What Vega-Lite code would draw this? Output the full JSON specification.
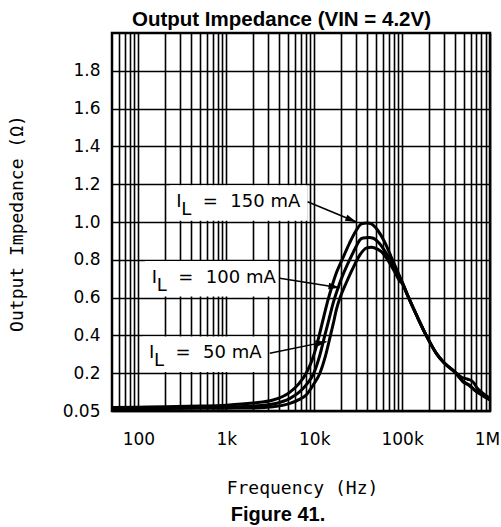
{
  "$schema": "https://vega.github.io/schema/vega-lite/v6.json",
  "width": 378,
  "height": 378,
  "autosize": {"type": "none"},
  "padding": {"left": 112, "top": 33, "right": 11, "bottom": 116},
  "background": "white",
  "title": {"text": "Figure 41.", "orient": "bottom", "anchor": "middle", "dx": -23, "offset": 8, "font": "Liberation Sans", "fontSize": 20, "fontWeight": "bold", "color": "black"},
  "config": {
    "view": {"stroke": "black", "strokeWidth": 2.5},
    "axis": {"gridColor": "black", "gridOpacity": 1, "gridWidth": 1.6, "ticks": false, "tickSize": 0, "domain": false, "labelColor": "black", "titleColor": "black"}
  },
  "datasets": {
    "curves": [
      {"series": "150 mA", "f": 50, "z": 0.018}, {"series": "150 mA", "f": 100, "z": 0.02}, {"series": "150 mA", "f": 200, "z": 0.022}, {"series": "150 mA", "f": 500, "z": 0.026}, {"series": "150 mA", "f": 1000, "z": 0.031}, {"series": "150 mA", "f": 2000, "z": 0.042}, {"series": "150 mA", "f": 3400, "z": 0.058}, {"series": "150 mA", "f": 5300, "z": 0.1}, {"series": "150 mA", "f": 6700, "z": 0.145}, {"series": "150 mA", "f": 8100, "z": 0.2}, {"series": "150 mA", "f": 9800, "z": 0.29}, {"series": "150 mA", "f": 11400, "z": 0.4}, {"series": "150 mA", "f": 12700, "z": 0.49}, {"series": "150 mA", "f": 14200, "z": 0.58}, {"series": "150 mA", "f": 15800, "z": 0.655}, {"series": "150 mA", "f": 18000, "z": 0.735}, {"series": "150 mA", "f": 21200, "z": 0.81}, {"series": "150 mA", "f": 25300, "z": 0.89}, {"series": "150 mA", "f": 30000, "z": 0.955}, {"series": "150 mA", "f": 34400, "z": 0.99}, {"series": "150 mA", "f": 40000, "z": 0.995}, {"series": "150 mA", "f": 44700, "z": 0.99}, {"series": "150 mA", "f": 53000, "z": 0.955}, {"series": "150 mA", "f": 63000, "z": 0.896}, {"series": "150 mA", "f": 75000, "z": 0.816}, {"series": "150 mA", "f": 89000, "z": 0.737}, {"series": "150 mA", "f": 100000, "z": 0.682}, {"series": "150 mA", "f": 115000, "z": 0.615}, {"series": "150 mA", "f": 150000, "z": 0.495}, {"series": "150 mA", "f": 188000, "z": 0.4}, {"series": "150 mA", "f": 245000, "z": 0.305}, {"series": "150 mA", "f": 300000, "z": 0.255}, {"series": "150 mA", "f": 395000, "z": 0.208}, {"series": "150 mA", "f": 500000, "z": 0.152}, {"series": "150 mA", "f": 580000, "z": 0.135}, {"series": "150 mA", "f": 664000, "z": 0.111}, {"series": "150 mA", "f": 800000, "z": 0.085}, {"series": "150 mA", "f": 1000000, "z": 0.058},
      {"series": "100 mA", "f": 50, "z": 0.015}, {"series": "100 mA", "f": 100, "z": 0.016}, {"series": "100 mA", "f": 200, "z": 0.017}, {"series": "100 mA", "f": 500, "z": 0.019}, {"series": "100 mA", "f": 1000, "z": 0.021}, {"series": "100 mA", "f": 2000, "z": 0.026}, {"series": "100 mA", "f": 3400, "z": 0.037}, {"series": "100 mA", "f": 5300, "z": 0.067}, {"series": "100 mA", "f": 6700, "z": 0.098}, {"series": "100 mA", "f": 8100, "z": 0.138}, {"series": "100 mA", "f": 9900, "z": 0.2}, {"series": "100 mA", "f": 11500, "z": 0.29}, {"series": "100 mA", "f": 13200, "z": 0.4}, {"series": "100 mA", "f": 14800, "z": 0.49}, {"series": "100 mA", "f": 16500, "z": 0.575}, {"series": "100 mA", "f": 18600, "z": 0.65}, {"series": "100 mA", "f": 21200, "z": 0.72}, {"series": "100 mA", "f": 25300, "z": 0.8}, {"series": "100 mA", "f": 30000, "z": 0.87}, {"series": "100 mA", "f": 33000, "z": 0.905}, {"series": "100 mA", "f": 36000, "z": 0.915}, {"series": "100 mA", "f": 42000, "z": 0.918}, {"series": "100 mA", "f": 47000, "z": 0.914}, {"series": "100 mA", "f": 55000, "z": 0.887}, {"series": "100 mA", "f": 66000, "z": 0.834}, {"series": "100 mA", "f": 82000, "z": 0.755}, {"series": "100 mA", "f": 93000, "z": 0.71}, {"series": "100 mA", "f": 100000, "z": 0.682}, {"series": "100 mA", "f": 115000, "z": 0.615}, {"series": "100 mA", "f": 150000, "z": 0.495}, {"series": "100 mA", "f": 188000, "z": 0.4}, {"series": "100 mA", "f": 245000, "z": 0.305}, {"series": "100 mA", "f": 300000, "z": 0.255}, {"series": "100 mA", "f": 395000, "z": 0.208}, {"series": "100 mA", "f": 500000, "z": 0.155}, {"series": "100 mA", "f": 580000, "z": 0.138}, {"series": "100 mA", "f": 664000, "z": 0.113}, {"series": "100 mA", "f": 800000, "z": 0.087}, {"series": "100 mA", "f": 1000000, "z": 0.06},
      {"series": "50 mA", "f": 50, "z": 0.012}, {"series": "50 mA", "f": 100, "z": 0.012}, {"series": "50 mA", "f": 200, "z": 0.013}, {"series": "50 mA", "f": 500, "z": 0.014}, {"series": "50 mA", "f": 1000, "z": 0.015}, {"series": "50 mA", "f": 2000, "z": 0.016}, {"series": "50 mA", "f": 3400, "z": 0.022}, {"series": "50 mA", "f": 5300, "z": 0.04}, {"series": "50 mA", "f": 6700, "z": 0.06}, {"series": "50 mA", "f": 8100, "z": 0.085}, {"series": "50 mA", "f": 9800, "z": 0.14}, {"series": "50 mA", "f": 11600, "z": 0.2}, {"series": "50 mA", "f": 13400, "z": 0.29}, {"series": "50 mA", "f": 15300, "z": 0.4}, {"series": "50 mA", "f": 16800, "z": 0.48}, {"series": "50 mA", "f": 17800, "z": 0.534}, {"series": "50 mA", "f": 20200, "z": 0.614}, {"series": "50 mA", "f": 23000, "z": 0.676}, {"series": "50 mA", "f": 27500, "z": 0.755}, {"series": "50 mA", "f": 33000, "z": 0.825}, {"series": "50 mA", "f": 39000, "z": 0.862}, {"series": "50 mA", "f": 45000, "z": 0.866}, {"series": "50 mA", "f": 48000, "z": 0.864}, {"series": "50 mA", "f": 58000, "z": 0.843}, {"series": "50 mA", "f": 68500, "z": 0.8}, {"series": "50 mA", "f": 86000, "z": 0.72}, {"series": "50 mA", "f": 93000, "z": 0.69}, {"series": "50 mA", "f": 100000, "z": 0.675}, {"series": "50 mA", "f": 115000, "z": 0.612}, {"series": "50 mA", "f": 150000, "z": 0.495}, {"series": "50 mA", "f": 188000, "z": 0.4}, {"series": "50 mA", "f": 245000, "z": 0.305}, {"series": "50 mA", "f": 300000, "z": 0.255}, {"series": "50 mA", "f": 395000, "z": 0.208}, {"series": "50 mA", "f": 470000, "z": 0.18}, {"series": "50 mA", "f": 560000, "z": 0.168}, {"series": "50 mA", "f": 625000, "z": 0.158}, {"series": "50 mA", "f": 665000, "z": 0.145}, {"series": "50 mA", "f": 700000, "z": 0.127}, {"series": "50 mA", "f": 800000, "z": 0.1}, {"series": "50 mA", "f": 1000000, "z": 0.067}
    ],
    "notes": [
      {"label": "150 mA", "tf": 270, "tz": 1.078, "bx1": 228, "bx2": 8400, "by1": 1.006, "by2": 1.194, "ax1": 8400, "az1": 1.107, "ax2": 30200, "az2": 1.0},
      {"label": "100 mA", "tf": 142, "tz": 0.679, "bx1": 119, "bx2": 3850, "by1": 0.606, "by2": 0.794, "ax1": 4050, "az1": 0.702, "ax2": 19500, "az2": 0.652},
      {"label": "50 mA", "tf": 132, "tz": 0.279, "bx1": 112, "bx2": 2850, "by1": 0.206, "by2": 0.394, "ax1": 3120, "az1": 0.305, "ax2": 13800, "az2": 0.367}
    ]
  },
  "resolve": {"axis": {"x": "independent", "y": "independent"}},
  "layer": [
    {
      "data": {"name": "notes"},
      "mark": {"type": "rect", "fill": "white", "stroke": null},
      "encoding": {
        "x": {"field": "bx1", "type": "quantitative", "scale": {"type": "log", "domain": [50, 1000000], "nice": false},
          "axis": {"orient": "top", "labels": false, "grid": false, "title": "Output Impedance (VIN = 4.2V)", "titleFont": "Liberation Sans", "titleFontSize": 20.5, "titleFontWeight": "bold", "titleX": 169, "titleY": -8, "titleAlign": "center", "titleBaseline": "alphabetic"}},
        "x2": {"field": "bx2"},
        "y": {"field": "by1", "type": "quantitative", "scale": {"domain": [0, 2], "nice": false, "zero": false}, "axis": null},
        "y2": {"field": "by2"}
      }
    },
    {
      "data": {"name": "curves"},
      "mark": {"type": "line", "color": "black", "strokeWidth": 3, "interpolate": "monotone", "clip": true},
      "encoding": {
        "x": {"field": "f", "type": "quantitative", "scale": {"type": "log", "domain": [50, 1000000], "nice": false},
          "axis": {"orient": "bottom", "grid": true,
            "values": [60, 70, 80, 90, 100, 200, 300, 400, 500, 600, 700, 800, 900, 1000, 2000, 3000, 4000, 5000, 6000, 7000, 8000, 9000, 10000, 20000, 30000, 40000, 50000, 60000, 70000, 80000, 90000, 100000, 200000, 300000, 400000, 500000, 600000, 700000, 800000, 900000, 1000000],
            "labelExpr": "datum.value == 100 ? '100' : datum.value == 1000 ? '1k' : datum.value == 10000 ? '10k' : datum.value == 100000 ? '100k' : datum.value == 1000000 ? '1M' : ''",
            "labelOffset": {"expr": "datum.value == 1000000 ? -3 : 0"},
            "labelFont": "DejaVu Sans", "labelFontSize": 17, "labelPadding": 20, "labelOverlap": false, "labelFlush": false, "labelBound": false,
            "title": "Frequency (Hz)", "titleFont": "DejaVu Sans Mono", "titleFontSize": 18, "titleFontWeight": "normal", "titleX": 190, "titleY": 82, "titleAlign": "center", "titleBaseline": "alphabetic"}},
        "y": {"field": "z", "type": "quantitative", "scale": {"domain": [0, 2], "nice": false, "zero": false},
          "axis": {"grid": true, "values": [0, 0.2, 0.4, 0.6, 0.8, 1.0, 1.2, 1.4, 1.6, 1.8],
            "labelExpr": "datum.value == 0 ? '0.05' : format(datum.value, '.1f')",
            "labelFont": "DejaVu Sans", "labelFontSize": 17, "labelPadding": 12, "labelOverlap": false, "labelFlush": false, "labelBound": false,
            "title": "Output Impedance (Ω)", "titleFont": "DejaVu Sans Mono", "titleFontSize": 18, "titleFontWeight": "normal", "titleX": -95, "titleY": 190, "titleAlign": "center", "titleBaseline": "middle", "titleAngle": -90}},
        "detail": {"field": "series", "type": "nominal"}
      }
    },
    {
      "data": {"name": "notes"},
      "mark": {"type": "rule", "color": "black", "strokeWidth": 1.5},
      "encoding": {
        "x": {"field": "ax1", "type": "quantitative", "scale": {"type": "log", "domain": [50, 1000000], "nice": false}, "axis": null},
        "x2": {"field": "ax2"},
        "y": {"field": "az1", "type": "quantitative", "scale": {"domain": [0, 2], "nice": false, "zero": false}, "axis": null},
        "y2": {"field": "az2"}
      }
    },
    {
      "data": {"name": "notes"},
      "transform": [{"filter": "datum.label == '150 mA'"}],
      "mark": {"type": "point", "shape": "M0,0L-1,-0.3L-1,0.3Z", "filled": true, "color": "black", "opacity": 1, "size": 500, "angle": 22.4},
      "encoding": {
        "x": {"field": "ax2", "type": "quantitative", "scale": {"type": "log", "domain": [50, 1000000], "nice": false}, "axis": null},
        "y": {"field": "az2", "type": "quantitative", "scale": {"domain": [0, 2], "nice": false, "zero": false}, "axis": null}
      }
    },
    {
      "data": {"name": "notes"},
      "transform": [{"filter": "datum.label == '100 mA'"}],
      "mark": {"type": "point", "shape": "M0,0L-1,-0.3L-1,0.3Z", "filled": true, "color": "black", "opacity": 1, "size": 500, "angle": 8.9},
      "encoding": {
        "x": {"field": "ax2", "type": "quantitative", "scale": {"type": "log", "domain": [50, 1000000], "nice": false}, "axis": null},
        "y": {"field": "az2", "type": "quantitative", "scale": {"domain": [0, 2], "nice": false, "zero": false}, "axis": null}
      }
    },
    {
      "data": {"name": "notes"},
      "transform": [{"filter": "datum.label == '50 mA'"}],
      "mark": {"type": "point", "shape": "M0,0L-1,-0.3L-1,0.3Z", "filled": true, "color": "black", "opacity": 1, "size": 500, "angle": -11.6},
      "encoding": {
        "x": {"field": "ax2", "type": "quantitative", "scale": {"type": "log", "domain": [50, 1000000], "nice": false}, "axis": null},
        "y": {"field": "az2", "type": "quantitative", "scale": {"domain": [0, 2], "nice": false, "zero": false}, "axis": null}
      }
    },
    {
      "data": {"name": "notes"},
      "mark": {"type": "text", "text": "I", "font": "DejaVu Sans", "fontSize": 18, "align": "left", "baseline": "alphabetic", "color": "black"},
      "encoding": {
        "x": {"field": "tf", "type": "quantitative", "scale": {"type": "log", "domain": [50, 1000000], "nice": false}, "axis": null},
        "y": {"field": "tz", "type": "quantitative", "scale": {"domain": [0, 2], "nice": false, "zero": false}, "axis": null}
      }
    },
    {
      "data": {"name": "notes"},
      "mark": {"type": "text", "text": "L", "font": "DejaVu Sans", "fontSize": 18, "align": "left", "baseline": "alphabetic", "dx": 5, "dy": 8, "color": "black"},
      "encoding": {
        "x": {"field": "tf", "type": "quantitative", "scale": {"type": "log", "domain": [50, 1000000], "nice": false}, "axis": null},
        "y": {"field": "tz", "type": "quantitative", "scale": {"domain": [0, 2], "nice": false, "zero": false}, "axis": null}
      }
    },
    {
      "data": {"name": "notes"},
      "mark": {"type": "text", "text": "=", "font": "DejaVu Sans", "fontSize": 18, "align": "center", "baseline": "alphabetic", "dx": 34, "color": "black"},
      "encoding": {
        "x": {"field": "tf", "type": "quantitative", "scale": {"type": "log", "domain": [50, 1000000], "nice": false}, "axis": null},
        "y": {"field": "tz", "type": "quantitative", "scale": {"domain": [0, 2], "nice": false, "zero": false}, "axis": null}
      }
    },
    {
      "data": {"name": "notes"},
      "mark": {"type": "text", "font": "DejaVu Sans", "fontSize": 18, "align": "left", "baseline": "alphabetic", "dx": 54, "color": "black"},
      "encoding": {
        "x": {"field": "tf", "type": "quantitative", "scale": {"type": "log", "domain": [50, 1000000], "nice": false}, "axis": null},
        "y": {"field": "tz", "type": "quantitative", "scale": {"domain": [0, 2], "nice": false, "zero": false}, "axis": null},
        "text": {"field": "label", "type": "nominal"}
      }
    }
  ]
}
